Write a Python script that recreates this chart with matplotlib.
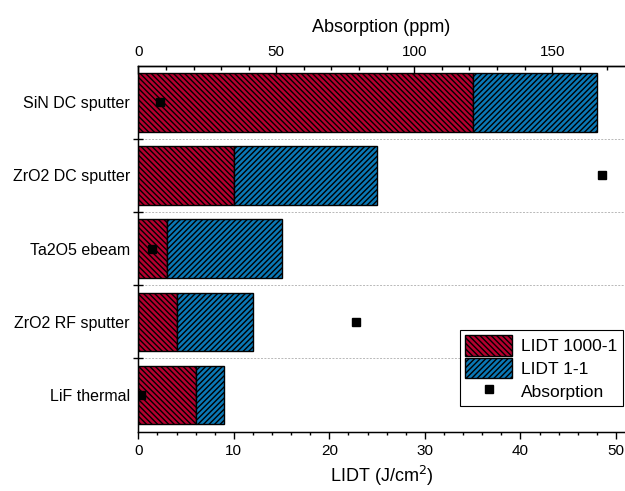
import numpy as np
import matplotlib
matplotlib.use('Agg')
import matplotlib.pyplot as plt
from matplotlib.ticker import MultipleLocator, FixedLocator
from matplotlib.lines import Line2D
from matplotlib.patches import Patch

plt.rcParams['font.family'] = ['Liberation Sans', 'DejaVu Sans']
plt.rcParams['hatch.linewidth'] = 1.0

# Data
samples = ['SiN DC sputter', 'ZrO2 DC sputter', 'Ta2O5 ebeam', 'ZrO2 RF sputter', 'LiF thermal']
lidt_1000 = [35, 10, 3, 4, 6]        # LIDT 1000-1 (J/cm^2)
lidt_1 = [48, 25, 15, 12, 9]         # LIDT 1-1 (J/cm^2), total bar length
absorption = [8, 168, 5, 79, 1]      # ppm

red = '#B5002F'
blue = '#0A78B5'
red_hatch = '\\' * 6
blue_hatch = '/' * 6

fig = plt.figure(figsize=(6.25, 4.91), dpi=100)
ax = fig.add_axes([0.2213, 0.1208, 0.7780, 0.7454])

y = np.arange(len(samples))
extra = [b - a for a, b in zip(lidt_1000, lidt_1)]
ax.barh(y, lidt_1000, height=0.8, color=red, edgecolor='black', linewidth=1.0,
        hatch=red_hatch, zorder=2)
ax.barh(y, extra, left=lidt_1000, height=0.8, color=blue, edgecolor='black',
        linewidth=1.0, hatch=blue_hatch, zorder=2)

# dotted separators between categories
for b in np.arange(0.5, len(samples) - 1, 1.0):
    ax.axhline(b, color='#b8b8b8', lw=0.7, ls=(0, (2, 1.5)), zorder=1)

ax.set_xlim(0, 50.9)
ax.set_ylim(len(samples) - 0.5, -0.5)
ax.xaxis.set_major_locator(MultipleLocator(10))
ax.xaxis.set_minor_locator(MultipleLocator(2))
ax.tick_params(axis='x', which='major', direction='out', length=5, width=1, labelsize=11, pad=4)
ax.tick_params(axis='x', which='minor', direction='out', length=2.5, width=1)
ax.set_xlabel('LIDT (J/cm$^2$)', fontsize=13, labelpad=4)

# y ticks: labels at centres, tick marks at boundaries
ax.yaxis.set_major_locator(FixedLocator(np.arange(0.5, len(samples) - 1, 1.0)))
ax.yaxis.set_major_formatter(plt.NullFormatter())
ax.yaxis.set_minor_locator(FixedLocator(y))
ax.set_yticklabels(samples, minor=True)
ax.tick_params(axis='y', which='major', direction='inout', length=7, width=1)
ax.tick_params(axis='y', which='minor', length=0, labelsize=11.5, pad=6)

for s in ['left', 'bottom', 'top']:
    ax.spines[s].set_linewidth(1.0)
ax.spines['right'].set_visible(False)

# top axis: absorption
ax2 = ax.twiny()
ax2.set_xlim(0, 50.9 * 9.554 / 2.76)
ax2.plot(absorption, y, 's', color='black', markersize=6, zorder=5)
ax2.xaxis.set_major_locator(MultipleLocator(50))
ax2.xaxis.set_minor_locator(MultipleLocator(10))
ax2.tick_params(axis='x', which='major', direction='in', length=6, width=1, labelsize=11, pad=5)
ax2.tick_params(axis='x', which='minor', direction='in', length=3, width=1)
ax2.set_xlabel('Absorption (ppm)', fontsize=13, labelpad=9)
ax2.spines['right'].set_visible(False)
ax2.spines['top'].set_linewidth(1.0)

handles = [Patch(facecolor=red, edgecolor='black', hatch=red_hatch, label='LIDT 1000-1'),
           Patch(facecolor=blue, edgecolor='black', hatch=blue_hatch, label='LIDT 1-1'),
           Line2D([], [], marker='s', color='black', ls='none', markersize=6, label='Absorption')]
leg = ax2.legend(handles=handles, loc='lower right', bbox_to_anchor=(0.996, 0.07),
                 borderaxespad=0, fontsize=12.5, frameon=True, fancybox=False,
                 edgecolor='black', framealpha=1, handlelength=2.75, handleheight=1.4,
                 labelspacing=0.15, borderpad=0.3, handletextpad=0.5)
leg.get_frame().set_linewidth(0.8)

fig.savefig('out.png', dpi=100)
